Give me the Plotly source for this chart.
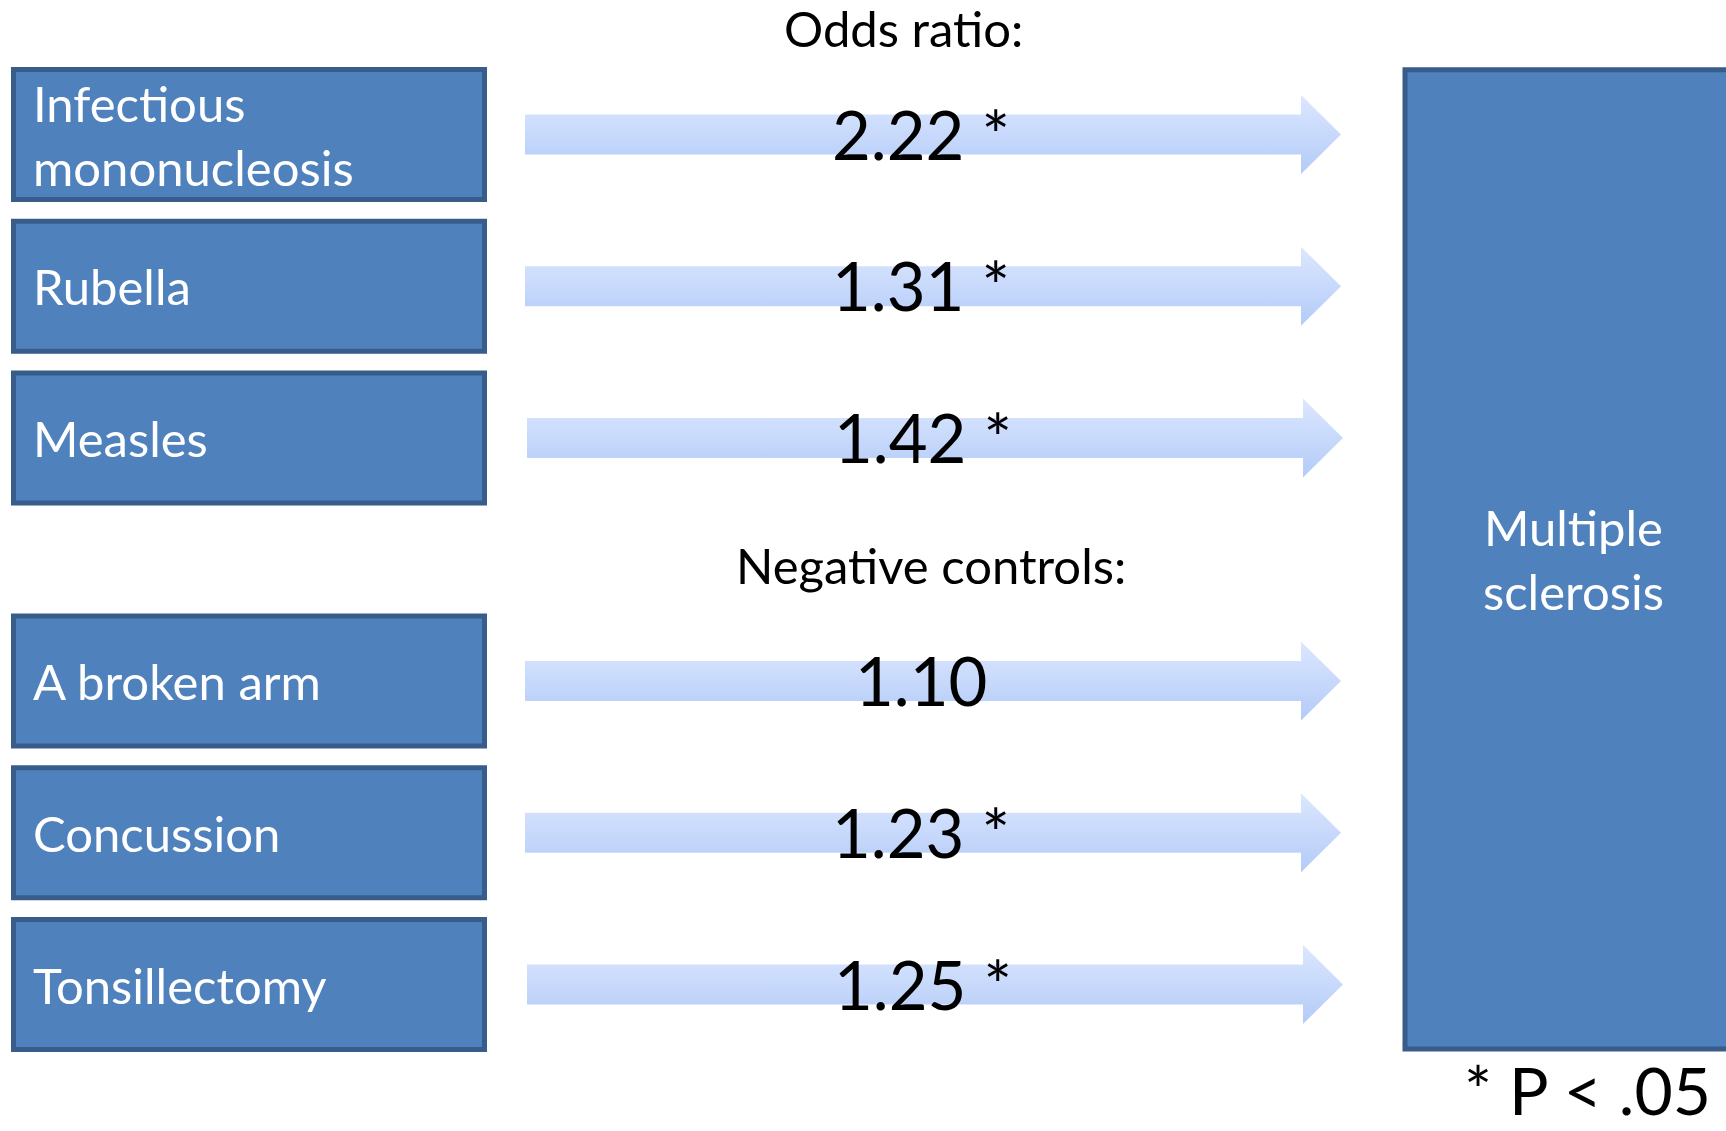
import plotly.graph_objects as go

# Exposures, their odds ratios for multiple sclerosis, and significance flags
exposures = ["Infectious<br>mononucleosis", "Rubella", "Measles",
             "A broken arm", "Concussion", "Tonsillectomy"]
odds_ratios = ["2.22", "1.31", "1.42", "1.10", "1.23", "1.25"]
significant = [True, True, True, False, True, True]
outcome = "Multiple<br>sclerosis"
header_top = "Odds ratio:"
header_controls = "Negative controls:"
footnote = "* P < .05"

W, H = 1726, 1131
FONT = "Lato"
BOX_FILL = "#4F81BD"
BOX_LINE = "#385D8A"

# Layout geometry (pixels, y grows downward)
row_h = 135
row_pitch = 151.8
group_gap = 91
first_top = 67
box_x0, box_x1 = 11, 487
arrow_x0, arrow_base, arrow_tip = 525, 1301, 1341
shaft_half, head_half = 20, 39.5
arrow_shift = [0, 0, 2, 0, 0, 2]

fig = go.Figure()
shapes = []
annotations = []

for i, (name, orv, sig) in enumerate(zip(exposures, odds_ratios, significant)):
    top = first_top + row_pitch * i + (group_gap if i >= 3 else 0)
    cy = top + row_h / 2
    # exposure box
    shapes.append(dict(type="rect", xref="x", yref="y",
                       x0=box_x0 + 2.5, x1=box_x1 - 2.5, y0=top + 2.5, y1=top + row_h - 2.5,
                       fillcolor=BOX_FILL, line=dict(color=BOX_LINE, width=5), layer="below"))
    annotations.append(dict(x=31, y=cy, xref="x", yref="y", text=name, showarrow=False,
                            xanchor="left", yanchor="middle", align="left",
                            font=dict(family=FONT, size=49, color="white")))
    # gradient arrow
    dx = arrow_shift[i]
    xs = [arrow_x0 + dx, arrow_base + dx, arrow_base + dx, arrow_tip + dx,
          arrow_base + dx, arrow_base + dx, arrow_x0 + dx, arrow_x0 + dx]
    ys = [cy - shaft_half, cy - shaft_half, cy - head_half, cy,
          cy + head_half, cy + shaft_half, cy + shaft_half, cy - shaft_half]
    fig.add_trace(go.Scatter(
        x=xs, y=ys, mode="lines", fill="toself", line=dict(width=0, color="rgba(0,0,0,0)"),
        fillgradient=dict(type="vertical",
                          colorscale=[[0, "#DCE7FE"], [1, "#B3CBF8"]],
                          start=cy - head_half, stop=cy + head_half),
        hoverinfo="skip", showlegend=False))
    label = orv + (" *" if sig else "")
    annotations.append(dict(x=921 + dx, y=cy - 1, xref="x", yref="y", text=label,
                            showarrow=False, xanchor="center", yanchor="middle",
                            font=dict(family=FONT, size=67, color="black")))

# outcome box (runs off the right edge)
shapes.append(dict(type="rect", xref="x", yref="y", x0=1405, x1=1760, y0=69.8, y1=1049,
                   fillcolor=BOX_FILL, line=dict(color=BOX_LINE, width=5), layer="below"))
annotations.append(dict(x=1573, y=559, xref="x", yref="y", text=outcome, showarrow=False,
                        xanchor="center", yanchor="middle", align="center",
                        font=dict(family=FONT, size=49, color="white")))

annotations.append(dict(x=903, y=28, xref="x", yref="y", text=header_top, showarrow=False,
                        xanchor="center", yanchor="middle",
                        font=dict(family=FONT, size=49, color="black")))
annotations.append(dict(x=931, y=565, xref="x", yref="y", text=header_controls,
                        showarrow=False, xanchor="center", yanchor="middle",
                        font=dict(family=FONT, size=49, color="black")))
annotations.append(dict(x=1587, y=H, xref="x", yref="y", yshift=0, text=footnote,
                        showarrow=False, xanchor="center", yanchor="bottom",
                        font=dict(family=FONT, size=66, color="black")))

fig.update_layout(
    width=W, height=H, margin=dict(l=0, r=0, t=0, b=0),
    paper_bgcolor="white", plot_bgcolor="white",
    xaxis=dict(range=[0, W], visible=False, fixedrange=True),
    yaxis=dict(range=[H, 0], visible=False, fixedrange=True),
    shapes=shapes, annotations=annotations, showlegend=False,
)

fig.write_html("out.html", config={"displayModeBar": False})
